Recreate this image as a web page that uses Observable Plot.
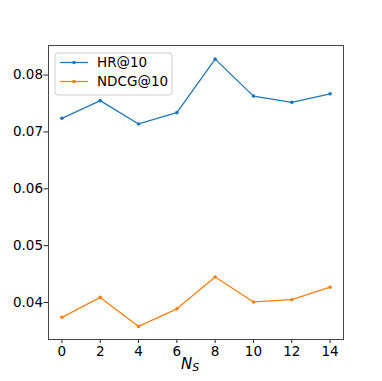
<!DOCTYPE html>
<html>
<head>
<meta charset="utf-8">
<script src="https://cdn.jsdelivr.net/npm/d3@7"></script>
<script src="https://cdn.jsdelivr.net/npm/@observablehq/plot@0.6"></script>
<style>
  html, body { margin: 0; padding: 0; background: #fff; }
  #chart { position: relative; width: 382px; height: 381px; }
</style>
</head>
<body>
<div id="chart"></div>
<script>
const nsValues = [0, 2, 4, 6, 8, 10, 12, 14];
const hrValues = [0.0724, 0.0755, 0.0714, 0.0734, 0.0828, 0.0763, 0.0752, 0.0767];
const ndcgValues = [0.0374, 0.0409, 0.0358, 0.0389, 0.0445, 0.0401, 0.0405, 0.0427];
const seriesNames = ["HR@10", "NDCG@10"];
const seriesColors = ["#1f77b4", "#ff7f0e"];
const xTicks = [0, 2, 4, 6, 8, 10, 12, 14];
const yTicks = [0.04, 0.05, 0.06, 0.07, 0.08];

const data = [];
[hrValues, ndcgValues].forEach((vals, s) => {
  vals.forEach((v, i) => data.push({ns: nsValues[i], value: v, series: seriesNames[s]}));
});

const W = 382, H = 381;
const mL = 48, mR = 39, mT = 45, mB = 42;
const FS = "13.5px";

const plot = Plot.plot({
  width: W,
  height: H,
  marginLeft: mL,
  marginRight: mR,
  marginTop: mT,
  marginBottom: mB,
  style: {fontFamily: "DejaVu Sans", fontSize: FS, color: "#000", background: "#fff"},
  x: {domain: [-0.7, 14.7], ticks: xTicks, label: null},
  y: {domain: [0.0335, 0.0852], ticks: yTicks, label: null},
  color: {domain: seriesNames, range: seriesColors},
  marks: [
    Plot.axisX({ticks: xTicks, tickSize: 4, tickPadding: 2.5, tickFormat: d => String(d), label: null, stroke: "#222"}),
    Plot.axisY({ticks: yTicks, tickSize: 4.5, tickPadding: 1, tickFormat: d => d.toFixed(2), label: null, stroke: "#222"}),
    Plot.line(data, {x: "ns", y: "value", z: "series", stroke: "series", strokeWidth: 1.3}),
    Plot.dot(data, {x: "ns", y: "value", fill: "series", r: 1.8, stroke: "none"}),
    Plot.frame({stroke: "#444", strokeWidth: 1})
  ]
});

const svg = d3.select(plot);
svg.selectAll("text").style("font-size", FS).style("font-family", "DejaVu Sans").attr("fill", "#000");

// x-axis label N_S
const xlab = svg.append("text")
  .attr("x", 190)
  .attr("y", 368.5)
  .attr("text-anchor", "middle")
  .attr("font-family", "DejaVu Sans")
  .style("font-size", "15px")
  .attr("font-style", "italic");
xlab.append("tspan").text("N");
xlab.append("tspan").style("font-size", "11px").attr("dy", 2).text("S");

// legend
const lg = svg.append("g").attr("transform", `translate(${mL + 7},${mT + 8})`);
lg.append("rect")
  .attr("x", 0).attr("y", 0).attr("width", 117).attr("height", 42)
  .attr("rx", 3)
  .attr("fill", "#fff").attr("fill-opacity", 0.85)
  .attr("stroke", "#ccc");
seriesNames.forEach((name, i) => {
  const y = 9.5 + i * 19;
  lg.append("line")
    .attr("x1", 5).attr("x2", 33).attr("y1", y).attr("y2", y)
    .attr("stroke", seriesColors[i]).attr("stroke-width", 1.3);
  lg.append("circle")
    .attr("cx", 19).attr("cy", y).attr("r", 1.8).attr("fill", seriesColors[i]);
  lg.append("text")
    .attr("x", 42).attr("y", y).attr("dy", "0.35em")
    .attr("text-anchor", "start")
    .attr("font-family", "DejaVu Sans")
    .style("font-size", FS)
    .text(name);
});

document.getElementById("chart").appendChild(plot);
</script>
</body>
</html>
